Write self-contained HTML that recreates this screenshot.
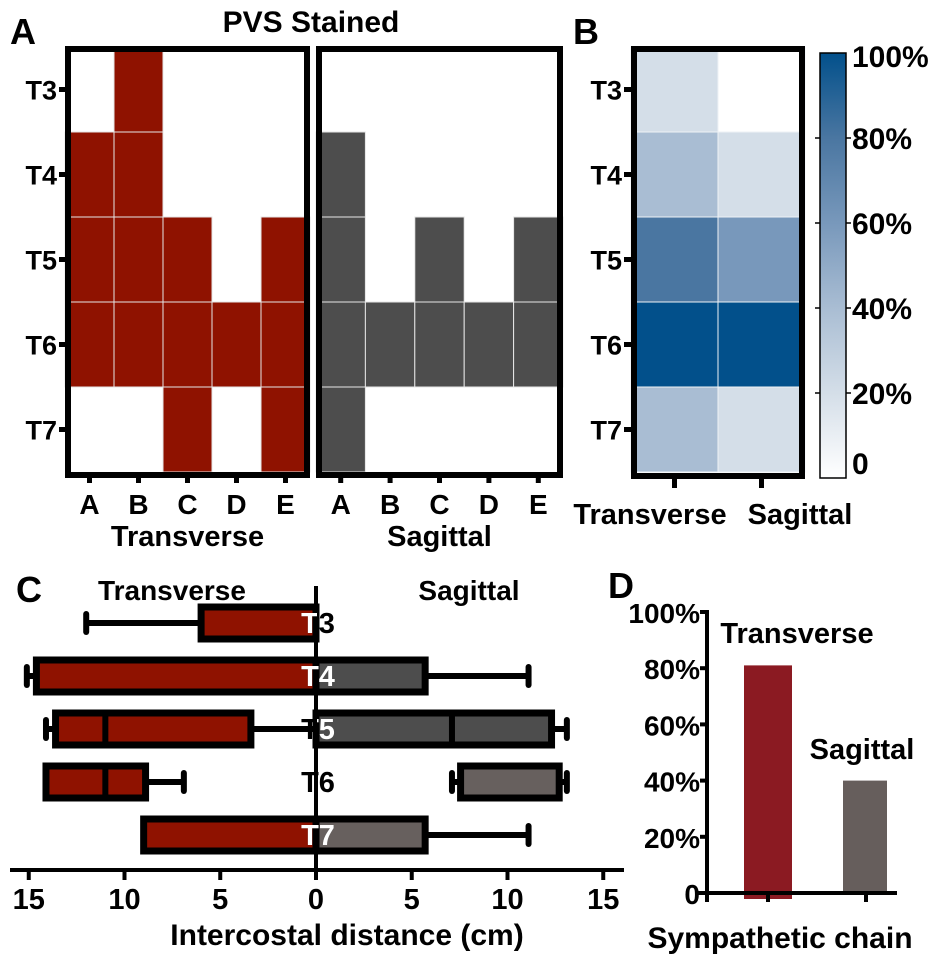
<!DOCTYPE html>
<html><head><meta charset="utf-8"><style>
html,body{margin:0;padding:0;background:#fff}
svg{display:block;font-family:"Liberation Sans",Arial,sans-serif;font-weight:bold}
</style></head><body>
<svg id="fig" width="935" height="962" viewBox="0 0 935 962" xmlns="http://www.w3.org/2000/svg"></svg>
<script>
// ---- Panel A data ----
const levels = ["T3","T4","T5","T6","T7"];
const sites = ["A","B","C","D","E"];
const transverseGrid = [[0,1,0,0,0],[1,1,0,0,0],[1,1,1,0,1],[1,1,1,1,1],[0,0,1,0,1]];
const sagittalGrid = [[0,0,0,0,0],[1,0,0,0,0],[1,0,1,0,1],[1,1,1,1,1],[1,0,0,0,0]];
// ---- Panel B data (% stained) ----
const heatCols = ["Transverse","Sagittal"];
const heatTransverse = [20,40,80,100,40];
const heatSagittal = [0,20,60,100,20];
const cbTicks = [0,20,40,60,80,100];
const cbTickLabels = ["0","20%","40%","60%","80%","100%"];
// ---- Panel C data (cm): [whiskerLo, boxLo, median, boxHi, whiskerHi] ----
const boxLevels = ["T3","T4","T5","T6","T7"];
const transBoxes = [[0,0,0,6.0,12.0],[0,0,0,14.6,15.1],[0,3.4,11.0,13.6,14.1],[6.9,8.9,11.0,14.1,14.1],[0,0,0,9.0,9.0]];
const sagBoxes = [null,[0,0,0,5.7,11.1],[0,0,7.1,12.3,13.1],[7.1,7.55,7.55,12.7,13.1],[0,0,0,5.7,11.1]];
const cTicks = [-15,-10,-5,0,5,10,15];
const cTickLabels = ["15","10","5","0","5","10","15"];
// ---- Panel D data ----
const chainCats = ["Transverse","Sagittal"];
const chainValues = [81,40];
const dTicks = [0,20,40,60,80,100];
const dTickLabels = ["0","20%","40%","60%","80%","100%"];

const NS="http://www.w3.org/2000/svg";
const svg=document.getElementById('fig');
function mk(tag,attrs,parent){const e=document.createElementNS(NS,tag);for(const k in attrs)e.setAttribute(k,attrs[k]);(parent||svg).appendChild(e);return e;}
function txt(s,x,y,size,anchor,parent,fill){const t=mk('text',{x:x,y:y,'font-size':size,'text-anchor':anchor||'middle',fill:fill||'#000'},parent);t.textContent=s;return t;}
const defs=mk('defs',{});

// ===== Panel A =====
const gA=mk('g',{});


let t=txt('A',10,44,36,'start',gA);
t=txt('PVS Stained',311,32,30,'middle',gA);
const rowY=i=>47+85*i, rowH=85;
function grid(data,x0,cw,color,name,xLabel){
  const g=mk('g',{},gA);
  
  
  for(let r=0;r<levels.length;r++)for(let c=0;c<sites.length;c++){
    if(data[r][c]){const rc=mk('rect',{x:x0+cw*c,y:rowY(r),width:cw,height:rowH,fill:color,stroke:'#e6e6e6','stroke-width':1},g);
      
      }
  }
  const w=cw*5;
  const b=mk('rect',{x:x0+3,y:49,width:w-6,height:426,fill:'none',stroke:'#000','stroke-width':6},g);
  
  for(let c=0;c<sites.length;c++){
    const cx=x0+cw*(c+0.5);
    mk('line',{x1:cx,y1:472,x2:cx,y2:483,stroke:'#000','stroke-width':5},g);
    const l=txt(sites[c],cx,514,28,'middle',g);
  }
  const xl=txt(xLabel,x0+w/2,546,29,'middle',g);
}
grid(transverseGrid,65,49,'#8f1200','transverse-grid','Transverse');
grid(sagittalGrid,316,49.4,'#4d4d4d','sagittal-grid','Sagittal');
for(let r=0;r<levels.length;r++){
  const cy=rowY(r)+rowH/2;
  mk('line',{x1:59,y1:cy,x2:66,y2:cy,stroke:'#000','stroke-width':5},gA);
  const l=txt(levels[r],57,cy+10,27,'end',gA);
}

// ===== Panel B =====
const gB=mk('g',{});


t=txt('B',573,44,36,'start',gB);
const stops=[[0,[255,255,255]],[20,[212,222,232]],[40,[169,189,211]],[60,[120,152,187]],[80,[74,118,161]],[100,[2,80,139]]];
function heatColor(v){for(let i=1;i<stops.length;i++){if(v<=stops[i][0]){const a=stops[i-1],b=stops[i];const f=(v-a[0])/(b[0]-a[0]);const c=a[1].map((q,k)=>Math.round(q+(b[1][k]-q)*f));return 'rgb('+c.join(',')+')';}}return 'rgb(2,80,139)';}
const hx0=631,hcw=87;
[heatTransverse,heatSagittal].forEach((arr,c)=>{
  arr.forEach((v,r)=>{
    const rc=mk('rect',{x:hx0+hcw*c,y:rowY(r),width:hcw,height:rowH,fill:heatColor(v),stroke:'#eef2f6','stroke-width':1},gB);
    
    
  });
  const cx=hx0+hcw*(c+0.5);
  mk('line',{x1:cx,y1:476,x2:cx,y2:488,stroke:'#000','stroke-width':5},gB);
  const l=txt(heatCols[c],c===0?650:800,524,29,'middle',gB);
});
t=mk('rect',{x:hx0+3,y:49,width:hcw*2-6,height:427,fill:'none',stroke:'#000','stroke-width':6},gB);

for(let r=0;r<levels.length;r++){
  const cy=rowY(r)+rowH/2;
  mk('line',{x1:624,y1:cy,x2:632,y2:cy,stroke:'#000','stroke-width':5},gB);
  const l=txt(levels[r],622,cy+10,27,'end',gB);
}
// colorbar
const lg=mk('linearGradient',{id:'cbg',x1:0,y1:1,x2:0,y2:0},defs);
stops.forEach(s=>mk('stop',{offset:s[0]+'%','stop-color':'rgb('+s[1].join(',')+')'},lg));
const cbTop=53,cbBot=478,cbY=v=>cbBot-(v/100)*(cbBot-cbTop);
t=mk('rect',{x:820,y:cbTop,width:26,height:cbBot-cbTop,fill:'url(#cbg)',stroke:'#000','stroke-width':1.5},gB);

cbTicks.forEach((v,i)=>{
  const y=cbY(v);
  if(v>0&&v<100){mk('line',{x1:815,y1:y,x2:820,y2:y,stroke:'#000','stroke-width':1.5},gB);mk('line',{x1:846,y1:y,x2:851,y2:y,stroke:'#000','stroke-width':1.5},gB);}
  const ty=v===100?y+14:(v===0?y-4:y+11);
  const l=txt(cbTickLabels[i],852,ty,30,'start',gB);
});

// ===== Panel C =====
const gC=mk('g',{});


t=txt('C',16,602,36,'start',gC);
t=txt('Transverse',172,600,28,'middle',gC);
t=txt('Sagittal',469,600,28,'middle',gC);
const x0C=316,pxcm=19.15;
const cx=v=>x0C+v*pxcm;
const rowC=i=>623+53*i;
const boxH=32;
function drawBox(b,sign,i,fill,name){
  if(!b)return;
  const y=rowC(i);const h=boxH;
  const g=mk('g',{},gC);
  
  
  const X=v=>cx(sign*v);
  if(b[0]<b[1]) mk('line',{x1:X(b[0]),y1:y,x2:X(b[1]),y2:y,stroke:'#000','stroke-width':6},g);
  if(b[4]>b[3]) mk('line',{x1:X(b[3]),y1:y,x2:X(b[4]),y2:y,stroke:'#000','stroke-width':6},g);
  [b[0],b[4]].forEach(v=>{if(v>0)mk('line',{x1:X(v),y1:y-9,x2:X(v),y2:y+9,stroke:'#000','stroke-width':6,'stroke-linecap':'round'},g);});
  const xa=Math.min(X(b[1]),X(b[3])),xb=Math.max(X(b[1]),X(b[3]));
  mk('rect',{x:xa,y:y-h/2,width:xb-xa,height:h,fill:fill,stroke:'#000','stroke-width':7},g);
  if(b[2]>b[1]&&b[2]<b[3]) mk('line',{x1:X(b[2]),y1:y-h/2,x2:X(b[2]),y2:y+h/2,stroke:'#000','stroke-width':6},g);
}
transBoxes.forEach((b,i)=>drawBox(b,-1,i,'#8f1200','transverse-box-'+boxLevels[i]));
const sagFill=['#4d4d4d','#4d4d4d','#4d4d4d','#67605e','#67605e'];
sagBoxes.forEach((b,i)=>drawBox(b,1,i,sagFill[i],'sagittal-box-'+boxLevels[i]));
t=mk('line',{x1:x0C,y1:586,x2:x0C,y2:873,stroke:'#000','stroke-width':4},gC);

boxLevels.forEach((s,i)=>{
  // black label, then white copy clipped to the box interiors
  const l=txt(s,x0C+2,rowC(i)+10,29,'middle',gC,'#000');
  
  const cp=mk('clipPath',{id:'clipC'+i},defs);
  const tb=transBoxes[i],sb=sagBoxes[i];
  if(tb&&tb[1]<=0.01){mk('rect',{x:cx(-tb[3])+3,y:rowC(i)-boxH/2+3,width:cx(0)-cx(-tb[3])-2,height:boxH-6},cp);}
  if(sb&&sb[1]<=0.01){mk('rect',{x:cx(0)+1,y:rowC(i)-boxH/2+3,width:cx(sb[3])-cx(0)-4,height:boxH-6},cp);}
  const w=txt(s,x0C+2,rowC(i)+10,29,'middle',gC,'#fff');
  w.setAttribute('clip-path','url(#clipC'+i+')');
  
});
t=mk('line',{x1:10,y1:870,x2:624,y2:870,stroke:'#000','stroke-width':4},gC);

cTicks.forEach((v,i)=>{
  mk('line',{x1:cx(v),y1:870,x2:cx(v),y2:880,stroke:'#000','stroke-width':4},gC);
  const l=txt(cTickLabels[i],cx(v),909,29,'middle',gC);
});
t=txt('Intercostal distance (cm)',347,945,30,'middle',gC);

// ===== Panel D =====
const gD=mk('g',{});


t=txt('D',608,598,36,'start',gD);
const dTop=612,dBot=893,dy=v=>dBot-(v/100)*(dBot-dTop);
const barX=[744,843],barW=[48,44],barC=['#8b1a22','#665e5c'];
chainValues.forEach((v,i)=>{
  const r=mk('rect',{x:barX[i],y:dy(v),width:barW[i],height:dBot-dy(v)+(i===0?6:0),fill:barC[i]},gD);
  
  
});
t=txt('Transverse',797,643,29,'middle',gD);
t=txt('Sagittal',862,759,29,'middle',gD);
t=mk('line',{x1:707,y1:dTop-2,x2:707,y2:dBot+9,stroke:'#000','stroke-width':4},gD);

t=mk('line',{x1:695,y1:dBot,x2:897,y2:dBot,stroke:'#000','stroke-width':4},gD);

dTicks.forEach((v,i)=>{
  mk('line',{x1:700,y1:dy(v),x2:707,y2:dy(v),stroke:'#000','stroke-width':4},gD);
  const l=txt(dTickLabels[i],700,dy(v)+11,28,'end',gD);
});
[768,866].forEach(x=>mk('line',{x1:x,y1:dBot,x2:x,y2:902,stroke:'#000','stroke-width':4},gD));
t=txt('Sympathetic chain',780,948,30,'middle',gD);
</script>
</body></html>
